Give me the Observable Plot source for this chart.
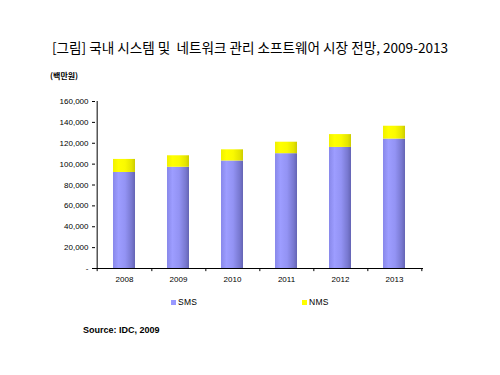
<!DOCTYPE html>
<html><head><meta charset="utf-8">
<script src="https://cdn.jsdelivr.net/npm/d3@7"></script>
<script src="https://cdn.jsdelivr.net/npm/@observablehq/plot@0.6"></script>
<style>
body{margin:0;background:#fff;width:500px;height:375px;position:relative;overflow:hidden;font-family:"Liberation Sans",Arial,sans-serif;color:#000}
#title{position:absolute;top:38px;left:0;width:500px;text-align:center;font-family:"Noto Sans CJK KR";font-size:13.6px;white-space:pre;line-height:18px}
#unit{position:absolute;top:70px;left:50px;font-family:"Noto Sans CJK KR";font-size:8px;font-weight:bold;line-height:12px}
#chart{position:absolute;top:90px;left:0}
#legend{position:absolute;top:296px;left:0;width:500px;height:14px;font-size:8.5px}
.lg{position:absolute;top:0;display:flex;align-items:center;line-height:12px;letter-spacing:0.3px}
.sw{width:5px;height:5px;margin-right:2px}
#source{position:absolute;top:324px;left:83px;font-size:9px;font-weight:bold;line-height:12px}
</style></head><body>
<div id="title">[그림] 국내 시스템 및  네트워크 관리 소프트웨어 시장 전망, 2009-2013</div>
<div id="unit">(백만원)</div>
<div id="chart"></div>
<div id="legend"></div>
<div id="source">Source: IDC, 2009</div>
<script>
const years = ["2008","2009","2010","2011","2012","2013"];
const sms = [92000, 97000, 103000, 110000, 116000, 124000];
const nms = [12500, 11000, 10700, 11000, 12300, 12300];
const seriesNames = ["SMS","NMS"];
const seriesColors = ["#9999ff","#ffff00"];
const yTicks = [0,20000,40000,60000,80000,100000,120000,140000,160000];

const table = years.flatMap((yr,i)=>[
  {year:yr, series:"SMS", value:sms[i]},
  {year:yr, series:"NMS", value:nms[i]}
]);

const W = 500, mL = 95, mR = 77;
const step = (W - mL - mR) / years.length;

const svg = Plot.plot({
  width: W, height: 200,
  marginLeft: mL, marginRight: mR, marginTop: 11, marginBottom: 22,
  style: {fontFamily: "'Liberation Sans', Arial, sans-serif", fontSize: "8px", color: "#000", background: "#fff"},
  x: {domain: years, paddingInner: 0.6, paddingOuter: 0.3, label: null},
  y: {domain: [0,160000], label: null},
  color: {domain: seriesNames, range: ["url(#gSMS)","url(#gNMS)"]},
  marks: [
    Plot.barY(table, {x:"year", y:"value", fill:"series"}),
    Plot.ruleY([0], {stroke:"#000", strokeWidth:1}),
    Plot.ruleX([years[0]], {dx: -step/2, y1: 0, y2: 160000, stroke:"#000"}),
    Plot.ruleX(years, {dx: step/2, y1: 0, y2: -3000, stroke:"#000"}),
    Plot.ruleX([years[0]], {dx: -step/2, y1: 0, y2: -3000, stroke:"#000"}),
    Plot.axisY({ticks: yTicks, tickSize: 3, tickPadding: 4, fontSize: 8,
      tickFormat: d => d === 0 ? "-" : d3.format(",")(d), label: null}),
    Plot.axisX({tickSize: 0, tickPadding: 8, fontSize: 8, label: null})
  ]
});

const defs = d3.select(svg).insert("defs", ":first-child");
function grad(id, stops){
  const g = defs.append("linearGradient").attr("id", id).attr("x1","0").attr("x2","1").attr("y1","0").attr("y2","0");
  stops.forEach(([o,c])=>g.append("stop").attr("offset",o).attr("stop-color",c));
}
grad("gSMS", [["0%","#8888ea"],["25%","#9d9dff"],["55%","#9393f4"],["85%","#7878d0"],["100%","#6464b4"]]);
grad("gNMS", [["0%","#f0f000"],["25%","#ffff00"],["55%","#fafa00"],["85%","#e4e400"],["100%","#cccc00"]]);

document.getElementById("chart").appendChild(svg);

const legend = document.getElementById("legend");
const lgX = [171, 302];
seriesNames.forEach((s,i)=>{
  const d = document.createElement("div");
  d.className = "lg";
  d.style.left = lgX[i] + "px";
  d.innerHTML = `<span class="sw" style="background:${seriesColors[i]}"></span><span>${s}</span>`;
  legend.appendChild(d);
});
</script>
</body></html>
